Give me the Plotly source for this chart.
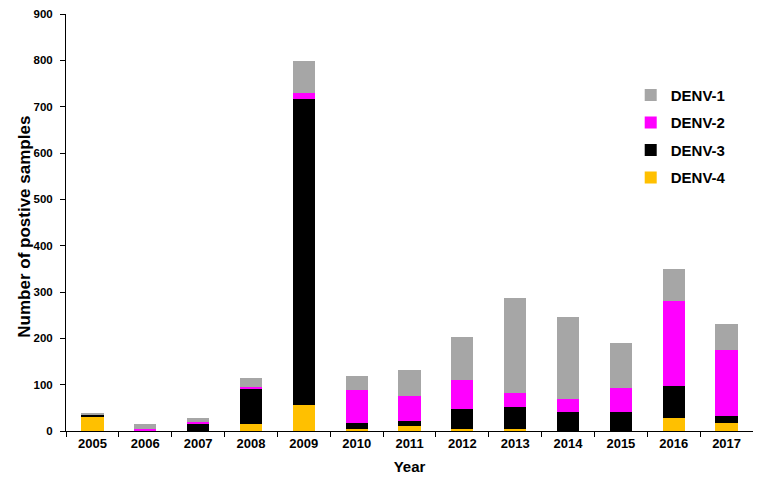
import plotly.graph_objects as go

years = ["2005", "2006", "2007", "2008", "2009", "2010", "2011",
         "2012", "2013", "2014", "2015", "2016", "2017"]
denv4 = [32, 0, 0, 16, 57, 4, 10, 4, 4, 0, 0, 27, 17]
denv3 = [3, 1, 17, 76, 660, 14, 11, 44, 47, 40, 40, 71, 15]
denv2 = [0, 4, 3, 4, 12, 70, 55, 62, 30, 28, 52, 183, 143]
denv1 = [4, 11, 9, 18, 70, 30, 55, 93, 206, 178, 97, 69, 55]

# stacked bottom to top; rank puts DENV-1 first in the legend
series = [
    ("DENV-4", denv4, "#FFC000", 4),
    ("DENV-3", denv3, "#000000", 3),
    ("DENV-2", denv2, "#FF00FF", 2),
    ("DENV-1", denv1, "#A6A6A6", 1),
]

fig = go.Figure()
for name, vals, color, rank in series:
    fig.add_trace(go.Bar(x=years, y=vals, name=name, legendgroup=name,
                         legendrank=rank,
                         marker=dict(color=color, line=dict(width=0))))

fam = "Liberation Sans, Arial, sans-serif"

# page body has an 8px margin, so the figure is sized to fit inside it
fig.update_layout(
    barmode="stack",
    bargap=0.58,
    width=745, height=467,
    margin=dict(l=58, r=0, t=6, b=44, autoexpand=False),
    plot_bgcolor="white",
    paper_bgcolor="white",
    font=dict(family=fam, size=12, color="black"),
    legend=dict(
        traceorder="grouped",
        x=0.822, y=0.845, xanchor="left", yanchor="top",
        font=dict(family=fam, size=15, color="black", weight="bold"),
        tracegroupgap=5, itemwidth=30,
        bgcolor="rgba(0,0,0,0)",
    ),
    showlegend=True,
)

fig.add_annotation(
    text="<b>Number of postive samples</b>",
    xref="paper", yref="paper", x=0, y=0.49,
    xanchor="center", yanchor="middle", xshift=-41,
    textangle=-90, showarrow=False,
    font=dict(family=fam, size=17, color="black"),
)

fig.update_xaxes(
    type="category",
    range=[-0.5, 12.5],
    automargin=False,
    showline=True, linecolor="black", linewidth=1,
    ticks="outside", tickson="boundaries", ticklen=5, tickcolor="black",
    showgrid=False,
    tickfont=dict(size=13, weight="bold"),
    title=dict(text="<b>Year</b>", font=dict(size=15), standoff=12),
)
fig.update_yaxes(
    range=[0, 900], dtick=100,
    automargin=False,
    showline=True, linecolor="black", linewidth=1,
    ticks="outside", ticklen=5, tickcolor="black",
    ticklabelstandoff=5,
    showgrid=False, zeroline=False,
    tickfont=dict(size=11.5, weight="bold"),
)

fig.write_html("out.html")
